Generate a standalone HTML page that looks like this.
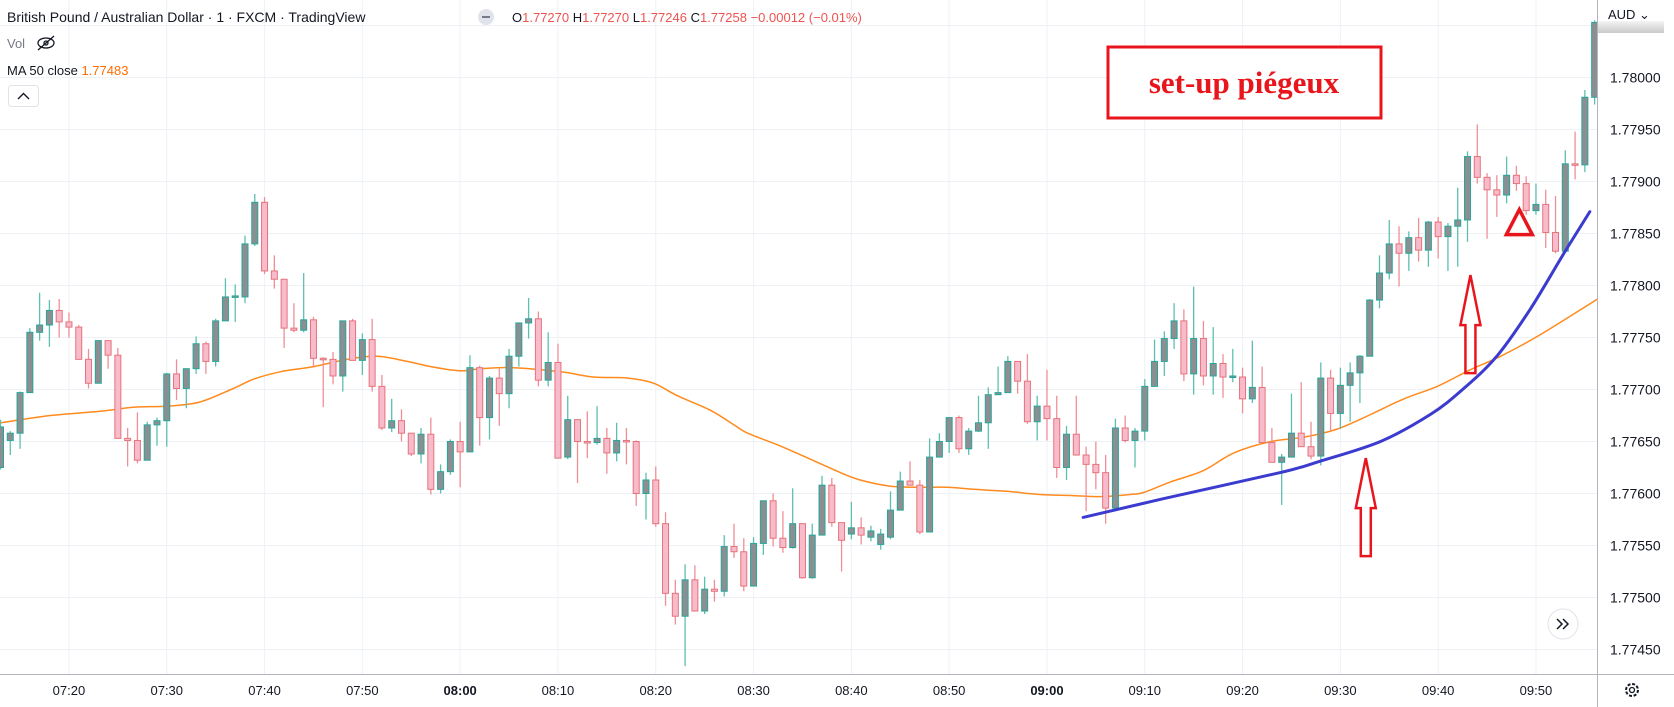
<!DOCTYPE html>
<html><head><meta charset="utf-8"><style>
html,body{margin:0;padding:0;background:#fff;}
svg{display:block;font-family:"Liberation Sans",sans-serif;}
</style></head><body>
<svg id="chart" width="1674" height="707" viewBox="0 0 1674 707" xmlns="http://www.w3.org/2000/svg">
<defs><clipPath id="plotclip"><rect x="0" y="0" width="1597" height="674"/></clipPath>
<linearGradient id="lblg" x1="0" y1="0" x2="0" y2="1"><stop offset="0" stop-color="#f4f4f4"/><stop offset="1" stop-color="#c9c9c9"/></linearGradient></defs>
<g id="grid"></g>
<g id="plot" clip-path="url(#plotclip)">
<g id="ma"></g>
<g id="candles"></g>
<g id="trend"></g>
</g>
<g id="annot">
<rect x="1108" y="47" width="273" height="71" fill="#fff" stroke="#e8161c" stroke-width="3"/>
<text x="1244" y="93" text-anchor="middle" font-family="Liberation Serif,serif" font-weight="bold" font-size="31" fill="#e8161c">set-up piégeux</text>
</g>
<g id="axes"></g>
<line x1="1597.5" y1="0" x2="1597.5" y2="707" stroke="#b2b5be" stroke-width="1"/>
<line x1="0" y1="674.5" x2="1674" y2="674.5" stroke="#b2b5be" stroke-width="1"/>
<g id="ylabels"></g>
<g id="xlabels"></g>
<rect x="1598" y="21" width="66" height="12" fill="url(#lblg)"/>
<text x="1608" y="19" font-size="13" fill="#131722">AUD ⌄</text>
<text x="7" y="22" font-size="14" fill="#131722">British Pound / Australian Dollar · 1 · FXCM · TradingView</text>
<g><circle cx="486" cy="17" r="8" fill="#e0e3eb"/><rect x="482" y="16" width="8" height="2" fill="#787b86"/></g>
<text x="512" y="22" font-size="13" fill="#131722">O<tspan fill="#ef5350">1.77270</tspan> H<tspan fill="#ef5350">1.77270</tspan> L<tspan fill="#ef5350">1.77246</tspan> C<tspan fill="#ef5350">1.77258 −0.00012 (−0.01%)</tspan></text>
<text x="7" y="48" font-size="13" fill="#787b86">Vol</text>
<g stroke="#131722" stroke-width="1.3" fill="none"><ellipse cx="46" cy="43" rx="8" ry="5"/><circle cx="46" cy="43" r="2"/><line x1="38" y1="50" x2="54" y2="36"/></g>
<text x="7" y="75" font-size="13" fill="#131722">MA 50 close <tspan fill="#ff6d00">1.77483</tspan></text>
<g><rect x="8.5" y="85.5" width="30" height="21" rx="3" fill="#fff" stroke="#e0e3eb"/><path d="M18 99 L23.5 93.5 L29 99" stroke="#131722" stroke-width="1.4" fill="none"/></g>
<g><circle cx="1563" cy="624" r="15" fill="#fff" stroke="#e0e3eb"/><path d="M1557 619 L1562 624 L1557 629 M1563 619 L1568 624 L1563 629" stroke="#131722" stroke-width="1.5" fill="none"/></g>
<g><circle cx="1632" cy="690" r="6" fill="none" stroke="#131722" stroke-width="2" stroke-dasharray="3 1.7"/><circle cx="1632" cy="690" r="2.5" fill="none" stroke="#131722" stroke-width="1.3"/></g>
</svg>
<script>
const opens=[1.77625,1.77651,1.77658,1.77697,1.77755,1.77762,1.77776,1.77765,1.77760,1.77729,1.77706,1.77747,1.77733,1.77653,1.77651,1.77632,1.77666,1.77670,1.77715,1.77701,1.77720,1.77744,1.77727,1.77766,1.77789,1.77789,1.77840,1.77880,1.77814,1.77806,1.77759,1.77757,1.77767,1.77730,1.77729,1.77713,1.77766,1.77728,1.77748,1.77703,1.77663,1.77670,1.77658,1.77638,1.77657,1.77604,1.77621,1.77650,1.77640,1.77721,1.77673,1.77711,1.77696,1.77732,1.77764,1.77768,1.77709,1.77726,1.77635,1.77671,1.77650,1.77649,1.77653,1.77639,1.77651,1.77650,1.77600,1.77613,1.77571,1.77504,1.77482,1.77517,1.77487,1.77508,1.77506,1.77549,1.77544,1.77511,1.77552,1.77593,1.77557,1.77548,1.77571,1.77519,1.77560,1.77608,1.77572,1.77561,1.77567,1.77558,1.77551,1.77558,1.77584,1.77612,1.77608,1.77563,1.77635,1.77650,1.77673,1.77643,1.77660,1.77668,1.77695,1.77697,1.77727,1.77708,1.77669,1.77684,1.77672,1.77625,1.77657,1.77637,1.77628,1.77620,1.77586,1.77663,1.77651,1.77660,1.77703,1.77727,1.77749,1.77766,1.77715,1.77749,1.77713,1.77725,1.77712,1.77712,1.77691,1.77702,1.77649,1.77630,1.77635,1.77658,1.77645,1.77636,1.77711,1.77677,1.77704,1.77716,1.77732,1.77786,1.77812,1.77840,1.77831,1.77846,1.77834,1.77861,1.77847,1.77857,1.77863,1.77924,1.77904,1.77892,1.77887,1.77906,1.77898,1.77872,1.77878,1.77851,1.77833,1.77917,1.77916,1.77981];
const closes=[1.77664,1.77658,1.77697,1.77755,1.77762,1.77776,1.77765,1.77760,1.77729,1.77706,1.77747,1.77733,1.77653,1.77651,1.77632,1.77666,1.77670,1.77715,1.77701,1.77720,1.77744,1.77727,1.77766,1.77789,1.77790,1.77840,1.77880,1.77814,1.77806,1.77759,1.77757,1.77767,1.77730,1.77729,1.77713,1.77766,1.77728,1.77748,1.77703,1.77663,1.77670,1.77658,1.77638,1.77657,1.77604,1.77621,1.77650,1.77640,1.77721,1.77673,1.77711,1.77696,1.77732,1.77764,1.77768,1.77709,1.77726,1.77634,1.77671,1.77650,1.77649,1.77653,1.77639,1.77651,1.77650,1.77600,1.77613,1.77571,1.77504,1.77482,1.77517,1.77487,1.77508,1.77506,1.77549,1.77544,1.77511,1.77552,1.77593,1.77557,1.77548,1.77571,1.77519,1.77560,1.77608,1.77572,1.77555,1.77567,1.77560,1.77564,1.77561,1.77584,1.77612,1.77608,1.77563,1.77635,1.77650,1.77673,1.77643,1.77660,1.77668,1.77695,1.77697,1.77727,1.77708,1.77669,1.77684,1.77672,1.77625,1.77657,1.77637,1.77628,1.77620,1.77586,1.77663,1.77651,1.77660,1.77703,1.77727,1.77749,1.77766,1.77715,1.77749,1.77713,1.77725,1.77712,1.77713,1.77691,1.77702,1.77649,1.77630,1.77635,1.77658,1.77645,1.77636,1.77711,1.77677,1.77704,1.77716,1.77732,1.77786,1.77812,1.77840,1.77831,1.77846,1.77834,1.77861,1.77847,1.77857,1.77863,1.77924,1.77904,1.77892,1.77887,1.77906,1.77898,1.77872,1.77878,1.77851,1.77833,1.77917,1.77916,1.77981,1.78053];
const highs=[1.77671,1.77660,1.77698,1.77759,1.77793,1.77786,1.77787,1.77774,1.77762,1.77739,1.77747,1.77747,1.77740,1.77663,1.77678,1.77669,1.77673,1.77716,1.77729,1.77720,1.77751,1.77746,1.77768,1.77807,1.77801,1.77848,1.77888,1.77885,1.77829,1.77806,1.77783,1.77812,1.77770,1.77731,1.77736,1.77766,1.77768,1.77754,1.77768,1.77714,1.77691,1.77681,1.77658,1.77663,1.77673,1.77628,1.77652,1.77669,1.77733,1.77723,1.77713,1.77720,1.77739,1.77764,1.77788,1.77775,1.77755,1.77744,1.77694,1.77671,1.77679,1.77684,1.77663,1.77668,1.77663,1.77651,1.77620,1.77626,1.77582,1.77517,1.77532,1.77531,1.77520,1.77517,1.77560,1.77571,1.77557,1.77558,1.77593,1.77600,1.77583,1.77605,1.77571,1.77571,1.77617,1.77615,1.77572,1.77592,1.77577,1.77569,1.77566,1.77602,1.77621,1.77631,1.77613,1.77653,1.77658,1.77673,1.77675,1.77663,1.77694,1.77702,1.77722,1.77732,1.77727,1.77734,1.77694,1.77719,1.77694,1.77665,1.77694,1.77645,1.77650,1.77637,1.77672,1.77675,1.77663,1.77710,1.77748,1.77756,1.77783,1.77777,1.77799,1.77766,1.77760,1.77734,1.77739,1.77721,1.77747,1.77722,1.77663,1.77638,1.77696,1.77707,1.77669,1.77726,1.77719,1.77721,1.77726,1.77733,1.77787,1.77829,1.77863,1.77857,1.77852,1.77865,1.77862,1.77866,1.77860,1.77894,1.77929,1.77955,1.77908,1.77906,1.77924,1.77915,1.77905,1.77898,1.77892,1.77886,1.77930,1.77948,1.77988,1.78055];
const lows=[1.77623,1.77637,1.77643,1.77697,1.77747,1.77741,1.77750,1.77750,1.77729,1.77701,1.77706,1.77720,1.77653,1.77626,1.77629,1.77632,1.77646,1.77645,1.77690,1.77682,1.77715,1.77715,1.77722,1.77766,1.77765,1.77783,1.77838,1.77811,1.77797,1.77740,1.77755,1.77755,1.77722,1.77683,1.77705,1.77698,1.77728,1.77714,1.77698,1.77661,1.77659,1.77650,1.77636,1.77629,1.77599,1.77600,1.77618,1.77606,1.77640,1.77646,1.77652,1.77665,1.77682,1.77722,1.77749,1.77703,1.77703,1.77634,1.77633,1.77610,1.77634,1.77647,1.77619,1.77631,1.77628,1.77588,1.77575,1.77568,1.77492,1.77474,1.77434,1.77487,1.77484,1.77496,1.77501,1.77538,1.77506,1.77511,1.77541,1.77549,1.77543,1.77547,1.77518,1.77518,1.77560,1.77568,1.77525,1.77556,1.77551,1.77554,1.77546,1.77556,1.77584,1.77608,1.77561,1.77563,1.77635,1.77639,1.77639,1.77637,1.77659,1.77643,1.77695,1.77697,1.77696,1.77667,1.77651,1.77651,1.77615,1.77613,1.77637,1.77583,1.77604,1.77571,1.77583,1.77649,1.77625,1.77651,1.77703,1.77713,1.77739,1.77708,1.77695,1.77704,1.77695,1.77692,1.77707,1.77677,1.77687,1.77649,1.77630,1.77589,1.77635,1.77645,1.77633,1.77627,1.77660,1.77662,1.77669,1.77687,1.77732,1.77778,1.77806,1.77799,1.77814,1.77823,1.77818,1.77826,1.77814,1.77818,1.77842,1.77898,1.77845,1.77866,1.77879,1.77891,1.77868,1.77868,1.77836,1.77831,1.77833,1.77902,1.77909,1.77974];
const maIdx=[0,5.1,10.2,13.6,17.1,20.4,23.8,25.9,28.6,32,35.5,38.5,41.6,44,47,49.1,52.5,57.3,60.6,64.1,66.8,69.2,72.6,75,76.4,79.4,82.8,85.9,87.9,91,94.4,96.8,99.5,103,106.3,109.7,112.5,115.5,116.9,119.6,123,126.1,129.9,133.2,136.7,140.1,143.5,146.9,150.3,153.4,157.5,163.3];
const maVals=[1.77668,1.77675,1.77679,1.77683,1.77684,1.77688,1.77701,1.77710,1.77717,1.77722,1.77729,1.77732,1.77727,1.77722,1.77718,1.77720,1.77721,1.77717,1.77712,1.77711,1.77706,1.77694,1.77680,1.77666,1.77658,1.77647,1.77633,1.77620,1.77613,1.77607,1.77606,1.77606,1.77604,1.77602,1.77599,1.77598,1.77597,1.77599,1.77601,1.77611,1.77622,1.77639,1.77650,1.77654,1.77662,1.77676,1.77691,1.77703,1.77719,1.77732,1.77753,1.77787];
const trendIdx=[110.7,118.9,130.8,134.9,141.1,146.2,149.5,153.0,156.4,159.8,162.5];
const trendVals=[1.77577,1.77595,1.77620,1.77631,1.77650,1.77676,1.77700,1.77732,1.77777,1.77830,1.77871];
const priceTicks=[1.7805,1.7800,1.7795,1.7790,1.7785,1.7780,1.7775,1.7770,1.7765,1.7760,1.7755,1.7750,1.7745];
const timeTickIdx=[7,17,27,37,47,57,67,77,87,97,107,117,127,137,147,157];
const timeTickLabels=["07:20","07:30","07:40","07:50","08:00","08:10","08:20","08:30","08:40","08:50","09:00","09:10","09:20","09:30","09:40","09:50"];
const boldTicks=["08:00","09:00"];
const upArrows=[[139.6,1.77634],[150.3,1.77810]];
const triMark=[155.3,1.77873];

const NS="http://www.w3.org/2000/svg";
const X=i=>0.5+i*9.78;
const Y=p=>77.5+(1.78-p)*104000;
function mk(tag,attrs,parent){const e=document.createElementNS(NS,tag);for(const k in attrs)e.setAttribute(k,attrs[k]);parent.appendChild(e);return e;}
function smooth(pts){let d='M'+pts[0][0].toFixed(1)+' '+pts[0][1].toFixed(1);
for(let k=0;k<pts.length-1;k++){const p0=pts[Math.max(0,k-1)],p1=pts[k],p2=pts[k+1],p3=pts[Math.min(pts.length-1,k+2)];
const c1=[p1[0]+(p2[0]-p0[0])/6,p1[1]+(p2[1]-p0[1])/6],c2=[p2[0]-(p3[0]-p1[0])/6,p2[1]-(p3[1]-p1[1])/6];
d+=' C'+c1[0].toFixed(1)+' '+c1[1].toFixed(1)+' '+c2[0].toFixed(1)+' '+c2[1].toFixed(1)+' '+p2[0].toFixed(1)+' '+p2[1].toFixed(1);}
return d;}
const grid=document.getElementById('grid');
priceTicks.forEach(p=>{const l=mk('line',{x1:0,x2:1597,y1:Y(p),y2:Y(p),stroke:'#eef1f6','stroke-width':1},grid);

});
timeTickIdx.forEach(i=>{const l=mk('line',{x1:X(i),x2:X(i),y1:0,y2:674,stroke:'#eef1f6','stroke-width':1},grid);

});
const yl=document.getElementById('ylabels');
priceTicks.forEach(p=>{if(Y(p)<40)return;const t=mk('text',{x:1610,y:Y(p)+5,'font-size':14,fill:'#131722'},yl);t.textContent=p.toFixed(5);

});
const xl=document.getElementById('xlabels');
timeTickIdx.forEach((i,k)=>{const t=mk('text',{x:X(i),y:695,'font-size':13,fill:'#131722','text-anchor':'middle','font-weight':boldTicks.includes(timeTickLabels[k])?'bold':'normal'},xl);t.textContent=timeTickLabels[k];

});
const cg=document.getElementById('candles');
opens.forEach((o,i)=>{const c=closes[i],up=c>=o,x=X(i);
const w=mk('line',{x1:x,x2:x,y1:Y(highs[i]),y2:Y(lows[i]),stroke:up?'#5dbfb0':'#ef8f95','stroke-width':1.3},cg);


const top=Y(Math.max(o,c)),h=Math.max(1.5,Math.abs(Y(o)-Y(c)));
const b=mk('rect',{x:x-3,y:top,width:6,height:h,fill:up?'#8c8f92':'#f8bbcb',stroke:up?'#26a69a':'#e5737b','stroke-width':1},cg);

});
const mg=document.getElementById('ma');
const mp=mk('path',{d:smooth(maIdx.map((i,k)=>[X(i),Y(maVals[k])])),fill:'none',stroke:'#ff8a1e','stroke-width':1.5},mg);


const tg=document.getElementById('trend');
const tp=mk('path',{d:smooth(trendIdx.map((i,k)=>[X(i),Y(trendVals[k])])),fill:'none',stroke:'#3b3bcf','stroke-width':3,'stroke-linecap':'round'},tg);


const ag=document.getElementById('annot');
upArrows.forEach(a=>{const x=X(a[0]),y=Y(a[1]);
const ar=mk('path',{d:`M${x} ${y} L${x+10} ${y+50} L${x+5} ${y+50} L${x+5} ${y+98} L${x-5} ${y+98} L${x-5} ${y+50} L${x-10} ${y+50} Z`,fill:'none',stroke:'#e8161c','stroke-width':2.5,'stroke-linejoin':'miter'},ag);

});
{const x=X(triMark[0]),y=Y(triMark[1]);
const tr=mk('path',{d:`M${x} ${y} L${x+13} ${y+25} L${x-13} ${y+25} Z`,fill:'none',stroke:'#e8161c','stroke-width':3.5},ag);

}
</script>
</body></html>
